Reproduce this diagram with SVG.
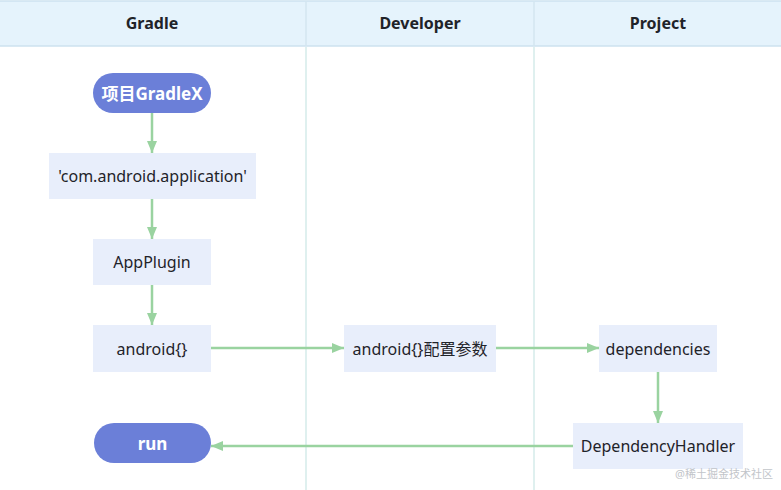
<svg xmlns="http://www.w3.org/2000/svg" width="781" height="490" viewBox="0 0 781 490">
<defs>
<style>
.hdr{fill:#E5F3FC;stroke:#CDE2EF;stroke-width:1.5}
.lane{stroke:#D4EBEA;stroke-width:1.5}
.box{fill:#E8EEFB}
.pill{fill:#6B7FD8}
.t{font-family:"Noto Sans","Noto Sans CJK SC",sans-serif;font-size:16px;fill:#1F2329;text-anchor:middle;dominant-baseline:central}
.th{font-family:"Noto Sans","Noto Sans CJK SC",sans-serif;font-size:16px;font-weight:bold;fill:#1F2329;text-anchor:middle;dominant-baseline:central}
.tp{font-family:"Noto Sans","Noto Sans CJK SC",sans-serif;font-size:17px;font-weight:bold;fill:#FFFFFF;text-anchor:middle;dominant-baseline:central}
.e{stroke:#9AD3A0;stroke-width:2.5;fill:none;marker-end:url(#ah)}
</style>
<marker id="ah" viewBox="0 0 12 10" refX="12" refY="5" markerWidth="12" markerHeight="10" markerUnits="userSpaceOnUse" orient="auto">
<path d="M0,0 L12,5 L0,10 z" fill="#9AD3A0"/>
</marker>
</defs>
<rect width="781" height="490" fill="#FFFFFF"/>
<g id="lanes">
<rect class="hdr" x="-1" y="1" width="783" height="45"/>
<line class="lane" x1="306" y1="1" x2="306" y2="46" style="stroke:#D3E6F1"/>
<line class="lane" x1="534" y1="1" x2="534" y2="46" style="stroke:#D3E6F1"/>
<line class="lane" x1="306" y1="47" x2="306" y2="490"/>
<line class="lane" x1="534" y1="47" x2="534" y2="490"/>
<text class="th" x="152" y="23">Gradle</text>
<text class="th" x="420" y="23">Developer</text>
<text class="th" x="658" y="23">Project</text>
</g>
<g id="connectors">
<line class="e" x1="152" y1="113" x2="152" y2="153"/>
<line class="e" x1="152" y1="199" x2="152" y2="239"/>
<line class="e" x1="152" y1="285" x2="152" y2="325"/>
<line class="e" x1="211" y1="348" x2="344" y2="348"/>
<line class="e" x1="496" y1="348" x2="599" y2="348"/>
<line class="e" x1="658" y1="372" x2="658" y2="423"/>
<line class="e" x1="573" y1="446" x2="211" y2="446"/>
</g>
<g id="n-start">
<rect class="pill" x="93" y="73" width="118" height="40" rx="20"/>
<text class="tp" x="152" y="93">项目GradleX</text>
</g>
<g id="n-com">
<rect class="box" x="49" y="153" width="207" height="46"/>
<text class="t" x="152.5" y="176">'com.android.application'</text>
</g>
<g id="n-appplugin">
<rect class="box" x="93" y="239" width="118" height="46"/>
<text class="t" x="152" y="262">AppPlugin</text>
</g>
<g id="n-android">
<rect class="box" x="93" y="325" width="118" height="47"/>
<text class="t" x="152" y="348.5">android{}</text>
</g>
<g id="n-config">
<rect class="box" x="344" y="325" width="152" height="47"/>
<text class="t" x="420" y="348.5">android{}配置参数</text>
</g>
<g id="n-dependencies">
<rect class="box" x="599" y="325" width="118" height="47"/>
<text class="t" x="658" y="348.5">dependencies</text>
</g>
<g id="n-handler">
<rect class="box" x="573" y="423" width="170" height="46"/>
<text class="t" x="658" y="446">DependencyHandler</text>
</g>
<g id="n-run">
<rect class="pill" x="94" y="423" width="117" height="40" rx="20"/>
<text class="tp" x="152.5" y="443">run</text>
</g>
<text x="773" y="478" style="font-family:'Noto Sans','Noto Sans CJK SC',sans-serif;font-size:11px;fill:#C2C5CA;text-anchor:end">@稀土掘金技术社区</text>
</svg>
